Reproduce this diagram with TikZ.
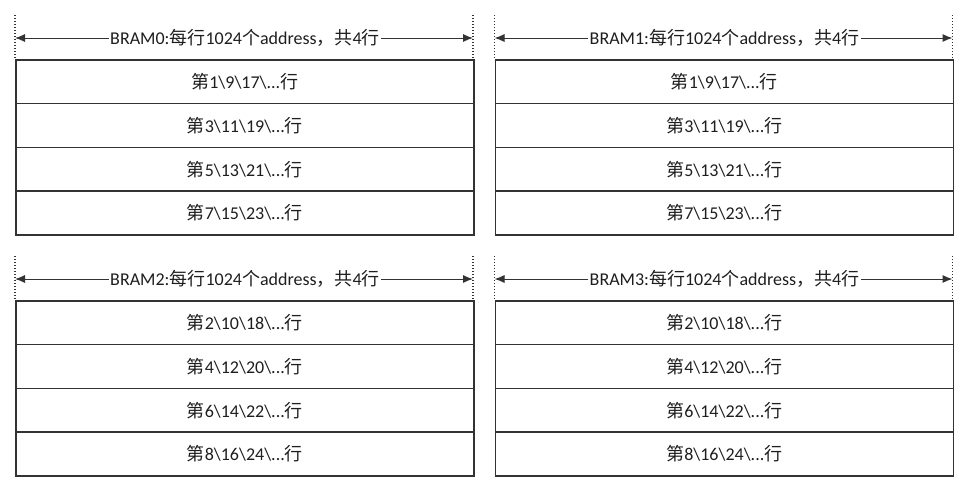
\documentclass[tikz,border=0pt]{standalone}
\usepackage{fontspec}
\setmainfont{Carlito}
\newfontfamily\cjk{Noto Sans CJK SC}
\usetikzlibrary{arrows.meta}
\newcommand{\cj}[1]{{\cjk #1}}
\definecolor{linegray}{HTML}{333333}
\definecolor{textgray}{HTML}{1E1E1E}
\begin{document}
\begin{tikzpicture}[x=1pt,y=-1pt,
  rowbox/.style={draw=linegray, line width=1.6pt, minimum width=458pt, minimum height=43.75pt,
    inner sep=0pt, anchor=north west, font=\fontsize{18}{20}\selectfont, text=textgray},
  hdr/.style={inner sep=1.5pt, font=\fontsize{18}{20}\selectfont, text=textgray},
  dim/.style={-{Latex[length=10pt,width=8pt]}, line width=1pt, draw=linegray},
  guide/.style={dash pattern=on 1.3pt off 1.7pt, line width=1.5pt, draw=linegray}]
\useasboundingbox (0,0) rectangle (961,485);
\foreach \bx/\by/\bn/\first in {15/59/0/1, 494.5/59/1/1, 15/300/2/2, 494.5/300/3/2} {
  \coordinate (ga\bn) at (\bx,\by-44);
  \coordinate (gb\bn) at (\bx,\by);
  \coordinate (ha\bn) at (\bx+458,\by-44);
  \coordinate (hb\bn) at (\bx+458,\by);
  \draw[guide] (ga\bn) -- (gb\bn);
  \draw[guide] (ha\bn) -- (hb\bn);
  \node[hdr] (t\bn) at (\bx+230,\by-21) {BRAM\bn:\cj{每行}1024\cj{个}address\cj{，共}4\cj{行}};
  \draw[dim] (t\bn.west) -- (ga\bn |- t\bn.west);
  \draw[dim] (t\bn.east) -- (ha\bn |- t\bn.east);
  \foreach \k in {0,...,3} {
    \pgfmathtruncatemacro\ra{\first+2*\k}
    \pgfmathtruncatemacro\rb{\ra+8}
    \pgfmathtruncatemacro\rc{\ra+16}
    \node[rowbox] (r\bn\k) at (\bx,\by+43.75*\k)
      {\cj{第}\ra\textbackslash\rb\textbackslash\rc\textbackslash...\cj{行}};
  }
}
\end{tikzpicture}
\end{document}
